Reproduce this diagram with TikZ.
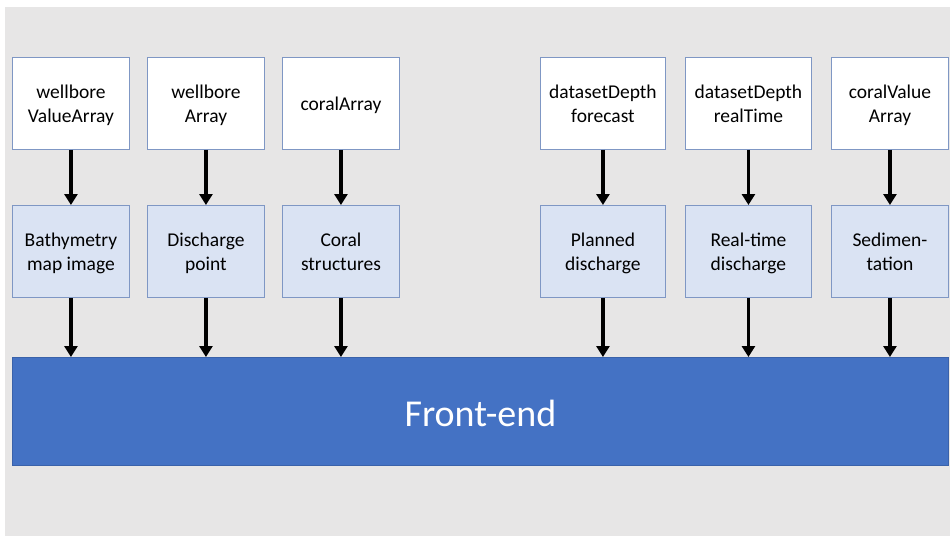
\documentclass[tikz,border=0pt]{standalone}
\usepackage{fontspec}
\setmainfont{Carlito}
\usetikzlibrary{arrows.meta}
\definecolor{pagegray}{HTML}{E7E6E6}
\definecolor{boxline}{HTML}{7F97C4}
\definecolor{layerfill}{HTML}{DAE3F3}
\definecolor{frontfill}{HTML}{4472C4}
\definecolor{frontline}{HTML}{3A62AA}
% fixed-height line strut so every label line sits at the same place
\newcommand\lstr{\rule[-5.2pt]{0pt}{24pt}}
\begin{document}
\begin{tikzpicture}[x=1pt,y=-1pt,
  srcbox/.style={draw=boxline,line width=0.9pt,fill=white,minimum width=117pt,minimum height=92pt,
    align=center,font=\fontsize{19.5}{24}\selectfont,anchor=north west,inner sep=0pt},
  layerbox/.style={srcbox,fill=layerfill},
  flow/.style={line width=3.5pt,-{Triangle[length=11pt,width=13pt]}}]
\useasboundingbox (0,0) rectangle (950,536);
\fill[white] (0,0) rectangle (950,536);
\fill[pagegray] (5,7) rectangle (950,536);
% source arrays
\node[srcbox] (s1) at (12,57) {\lstr wellbore\\\lstr ValueArray};
\node[srcbox] (s2) at (147,57) {\lstr wellbore\\\lstr Array};
\node[srcbox] (s3) at (282,57) {\lstr coralArray};
\node[srcbox,minimum width=125pt] (s4) at (540,57) {\lstr datasetDepth\\\lstr forecast};
\node[srcbox,minimum width=126pt] (s5) at (685,57) {\lstr datasetDepth\\\lstr realTime};
\node[srcbox] (s6) at (831,57) {\lstr coralValue\\\lstr Array};
% map layers
\node[layerbox] (l1) at (12,205) {\lstr Bathymetry\\\lstr map image};
\node[layerbox] (l2) at (147,205) {\lstr Discharge\\\lstr point};
\node[layerbox] (l3) at (282,205) {\lstr Coral\\\lstr structures};
\node[layerbox,minimum width=125pt] (l4) at (540,205) {\lstr Planned\\\lstr discharge};
\node[layerbox,minimum width=126pt] (l5) at (685,205) {\lstr Real-time\\\lstr discharge};
\node[layerbox] (l6) at (831,205) {\lstr Sedimen-\\\lstr tation};
% front-end bar
\node[draw=frontline,line width=0.9pt,fill=frontfill,minimum width=936pt,minimum height=108pt,
  anchor=north west,inner sep=0pt,text=white,font=\fontsize{38}{44}\selectfont] (fe) at (12,357)
  {\raisebox{-2pt}[\height][\depth]{Front-end}};
% data flow
\foreach \i in {1,...,6}{
  \draw[flow] (s\i.south) -- (l\i.north);
  \draw[flow] (l\i.south) -- (l\i.south |- fe.north);
}
\end{tikzpicture}
\end{document}
